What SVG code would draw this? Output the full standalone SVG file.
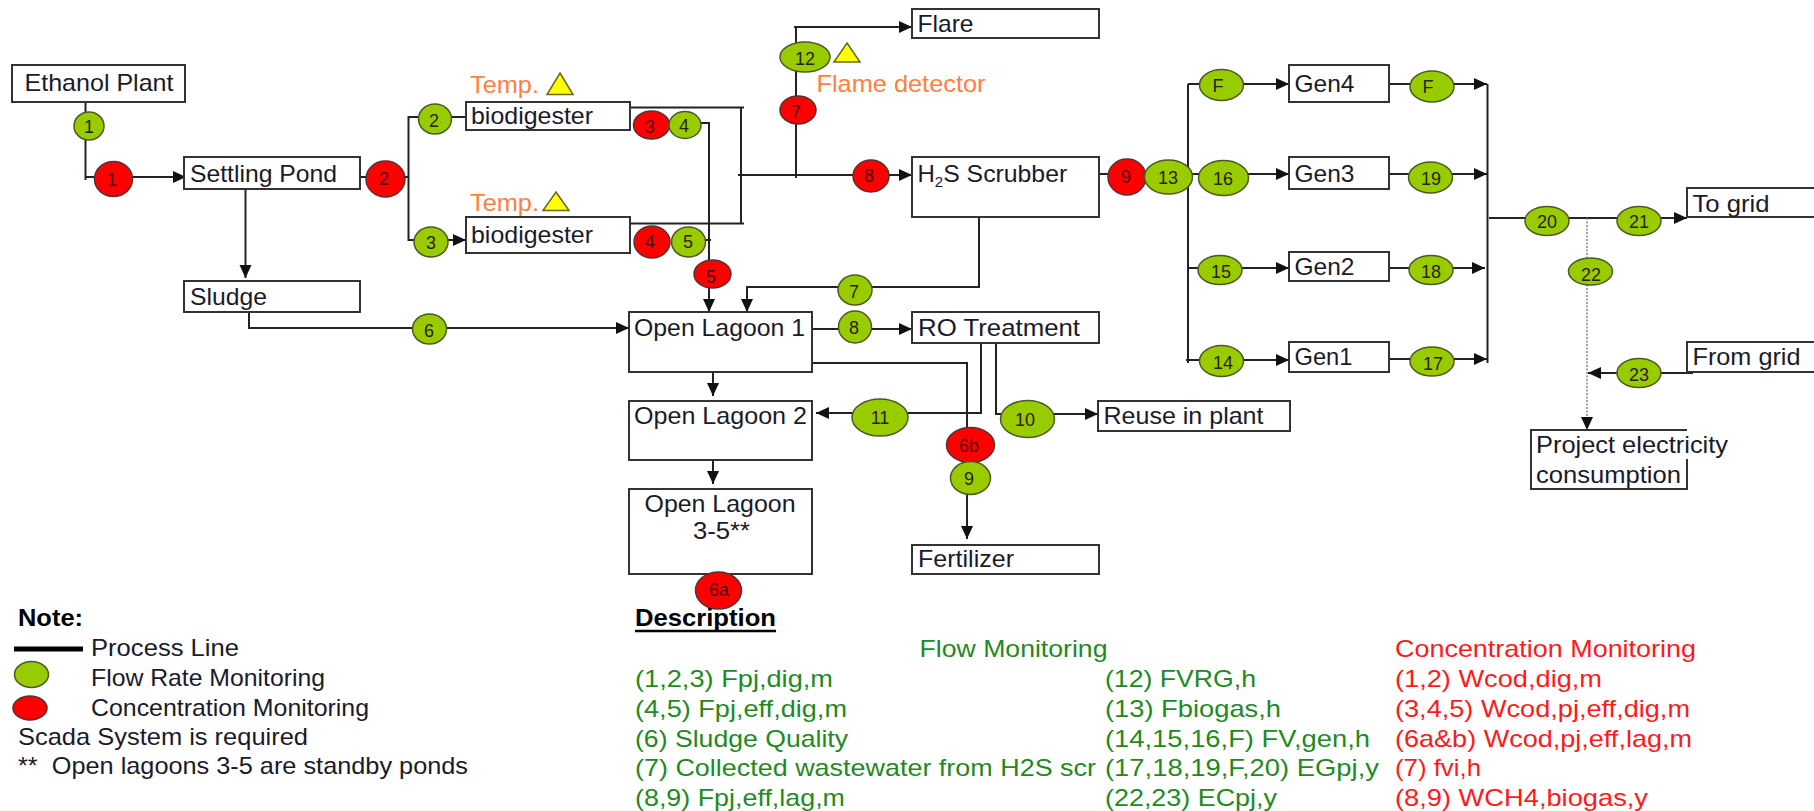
<svg xmlns="http://www.w3.org/2000/svg" width="1814" height="811" viewBox="0 0 1814 811">
<style>
text{font-family:"Liberation Sans",Arial,sans-serif;fill:#1a1a2a;font-size:24px}
.b{fill:#fff;stroke:#333;stroke-width:2}
.l{fill:none;stroke:#222;stroke-width:2}
.a{marker-end:url(#ah)}
.d{fill:none;stroke:#888;stroke-width:1.5;stroke-dasharray:2 1.5}
.f{fill:#99cc00;stroke:#4a5a20;stroke-width:1.5}
.r{fill:#ff0000;stroke:#5a3030;stroke-width:1.5}
.n{font-size:18px;text-anchor:middle;fill:#2a2200}
.nr{font-size:18px;text-anchor:middle;fill:#500000}
.o{fill:#ff7f40}
.t{fill:#ffff00;stroke:#666622;stroke-width:1.5}
.g{fill:#1f8a22}
.c{fill:#ff1a1a}
.k{fill:#000;font-weight:bold}
</style>
<defs>
<marker id="ah" markerUnits="userSpaceOnUse" markerWidth="14" markerHeight="14" refX="13" refY="6" orient="auto"><path d="M0 0L13 6L0 12Z" fill="#111"/></marker>
</defs>
<g id="connectors">
<path class="l" d="M85.500 102V180"/>
<path class="l a" d="M85.500 177H186"/>
<path class="l a" d="M245.500 189V278"/>
<path class="l a" d="M249 312V328H629"/>
<path class="l" d="M358 177H408.500"/>
<path class="l a" d="M466 117H408.500V240H466"/>
<path class="l" d="M630 107.500H744M741 107.500V223.500M630 223.500H744"/>
<path class="l a" d="M738 175H912"/>
<path class="l" d="M796 178V28"/>
<path class="l a" d="M794 27H912"/>
<path class="l a" d="M690 123H709V312"/>
<path class="l" d="M695 240H711"/>
<path class="l a" d="M979 217V287H747V312"/>
<path class="l a" d="M812 329H912"/>
<path class="l a" d="M812 363H967V539"/>
<path class="l a" d="M981 343V413H816"/>
<path class="l a" d="M996 343V414H1098"/>
<path class="l a" d="M713 372V396"/>
<path class="l a" d="M713 460V484"/>
<path class="l" d="M1098 174H1188M1188 84V363"/>
<path class="l a" d="M1188 84H1289"/>
<path class="l a" d="M1188 174H1289"/>
<path class="l a" d="M1188 268H1289"/>
<path class="l a" d="M1186 360H1289"/>
<path class="l a" d="M1389 84H1487"/>
<path class="l a" d="M1389 174H1487"/>
<path class="l a" d="M1389 268H1485"/>
<path class="l a" d="M1389 359H1487"/>
<path class="l" d="M1487.500 84V363"/>
<path class="l a" d="M1489 218H1687"/>
<path class="d" d="M1587 218V418"/>
<path class="d" d="M1587 418V430"/>
<path d="M1587 430L1581 417H1593Z" fill="#111"/>
<path class="l a" d="M1693 373H1588"/>
</g>
<g id="ethanol-plant"><rect class="b" x="12" y="65" width="173" height="37"/><text x="24.500" y="91" textLength="149" lengthAdjust="spacingAndGlyphs">Ethanol Plant</text></g>
<g id="settling-pond"><rect class="b" x="184" y="157" width="176" height="32"/><text x="190" y="182" textLength="147" lengthAdjust="spacingAndGlyphs">Settling Pond</text></g>
<g id="sludge"><rect class="b" x="184" y="281" width="176" height="31"/><text x="190" y="305" textLength="77" lengthAdjust="spacingAndGlyphs">Sludge</text></g>
<g id="biodigester-1"><rect class="b" x="466" y="102" width="164" height="28"/><text x="471" y="124" textLength="122" lengthAdjust="spacingAndGlyphs">biodigester</text></g>
<g id="biodigester-2"><rect class="b" x="466" y="217" width="164" height="36"/><text x="471" y="243" textLength="122" lengthAdjust="spacingAndGlyphs">biodigester</text></g>
<g id="flare"><rect class="b" x="912" y="9" width="187" height="29"/><text x="917.500" y="32" textLength="56" lengthAdjust="spacingAndGlyphs">Flare</text></g>
<g id="h2s-scrubber"><rect class="b" x="912" y="157" width="187" height="60"/><text x="917.500" y="182">H<tspan font-size="15" dy="5">2</tspan><tspan dy="-5" textLength="124" lengthAdjust="spacingAndGlyphs">S Scrubber</tspan></text></g>
<g id="open-lagoon-1"><rect class="b" x="629" y="312" width="183" height="60"/><text x="634" y="336" textLength="171" lengthAdjust="spacingAndGlyphs">Open Lagoon 1</text></g>
<g id="ro-treatment"><rect class="b" x="912" y="312" width="187" height="31"/><text x="918" y="336" textLength="162" lengthAdjust="spacingAndGlyphs">RO Treatment</text></g>
<g id="open-lagoon-2"><rect class="b" x="629" y="401" width="183" height="59"/><text x="634" y="424" textLength="173" lengthAdjust="spacingAndGlyphs">Open Lagoon 2</text></g>
<g id="open-lagoon-3-5"><rect class="b" x="629" y="489" width="183" height="85"/><text x="644.500" y="512" textLength="151" lengthAdjust="spacingAndGlyphs">Open Lagoon</text><text x="693" y="538.500" textLength="57" lengthAdjust="spacingAndGlyphs">3-5**</text></g>
<g id="fertilizer"><rect class="b" x="912" y="545" width="187" height="29"/><text x="918" y="567" textLength="96" lengthAdjust="spacingAndGlyphs">Fertilizer</text></g>
<g id="reuse-in-plant"><rect class="b" x="1098" y="401" width="192" height="30"/><text x="1103.500" y="424" textLength="160" lengthAdjust="spacingAndGlyphs">Reuse in plant</text></g>
<g id="gen4"><rect class="b" x="1289" y="65" width="100" height="37"/><text x="1294.500" y="92" textLength="60" lengthAdjust="spacingAndGlyphs">Gen4</text></g>
<g id="gen3"><rect class="b" x="1289" y="157" width="100" height="32"/><text x="1294.500" y="182" textLength="60" lengthAdjust="spacingAndGlyphs">Gen3</text></g>
<g id="gen2"><rect class="b" x="1289" y="252" width="100" height="29"/><text x="1294.500" y="275" textLength="60" lengthAdjust="spacingAndGlyphs">Gen2</text></g>
<g id="gen1"><rect class="b" x="1289" y="342" width="100" height="30"/><text x="1294.500" y="365" textLength="58" lengthAdjust="spacingAndGlyphs">Gen1</text></g>
<g id="to-grid"><path class="b" d="M1816 188H1687V217H1816"/><text x="1692.500" y="212" textLength="77" lengthAdjust="spacingAndGlyphs">To grid</text></g>
<g id="from-grid"><path class="b" d="M1816 342H1687V372H1816"/><text x="1692.500" y="365" textLength="108" lengthAdjust="spacingAndGlyphs">From grid</text></g>
<g id="project-electricity"><path class="b" style="fill:none" d="M1687 430H1531V489H1687V459"/><text x="1536" y="453" textLength="192" lengthAdjust="spacingAndGlyphs">Project electricity</text><text x="1536" y="483" textLength="145" lengthAdjust="spacingAndGlyphs">consumption</text></g>
<g id="sensor-temp-1"><text class="o" x="470" y="93" textLength="69" lengthAdjust="spacingAndGlyphs">Temp.</text><path class="t" d="M560 73L573 94.500H547Z"/></g>
<g id="sensor-temp-2"><text class="o" x="470" y="211" textLength="69" lengthAdjust="spacingAndGlyphs">Temp.</text><path class="t" d="M556 192L569 210.500H543Z"/></g>
<g id="sensor-flame"><path class="t" d="M847 43L860 62H834Z"/><text class="o" x="816.500" y="92" textLength="169" lengthAdjust="spacingAndGlyphs">Flame detector</text></g>
<g id="flow-1"><ellipse class="f" cx="89" cy="126" rx="15" ry="14"/><text class="n" x="89" y="133">1</text></g>
<g id="conc-1"><ellipse class="r" cx="113.500" cy="179" rx="19" ry="17.500"/><text class="nr" x="112" y="186">1</text></g>
<g id="conc-2"><ellipse class="r" cx="385.500" cy="179" rx="19.500" ry="18"/><text class="nr" x="384" y="185">2</text></g>
<g id="flow-2"><ellipse class="f" cx="435" cy="119" rx="16.500" ry="15"/><text class="n" x="434" y="127">2</text></g>
<g id="flow-3"><ellipse class="f" cx="431" cy="242" rx="17" ry="15"/><text class="n" x="431" y="249">3</text></g>
<g id="flow-6"><ellipse class="f" cx="429.500" cy="329" rx="17" ry="15"/><text class="n" x="429" y="337">6</text></g>
<g id="conc-3"><ellipse class="r" cx="651.500" cy="125" rx="18" ry="14"/><text class="nr" x="650" y="133">3</text></g>
<g id="flow-4"><ellipse class="f" cx="685" cy="125" rx="16" ry="13.500"/><text class="n" x="684" y="132">4</text></g>
<g id="conc-4"><ellipse class="r" cx="652" cy="242" rx="18" ry="16"/><text class="nr" x="650" y="248">4</text></g>
<g id="flow-5"><ellipse class="f" cx="688.500" cy="242" rx="17" ry="15"/><text class="n" x="688" y="248">5</text></g>
<g id="conc-5"><ellipse class="r" cx="712.500" cy="274" rx="18.500" ry="14"/><text class="nr" x="711" y="283">5</text></g>
<g id="flow-7"><ellipse class="f" cx="855" cy="290" rx="17" ry="15"/><text class="n" x="854" y="298">7</text></g>
<g id="flow-8"><ellipse class="f" cx="855" cy="327" rx="16.500" ry="16"/><text class="n" x="854" y="334">8</text></g>
<g id="conc-7"><ellipse class="r" cx="798" cy="110" rx="18" ry="14"/><text class="nr" x="796" y="118">7</text></g>
<g id="flow-12"><ellipse class="f" cx="805" cy="57" rx="25" ry="15"/><text class="n" x="805" y="65">12</text></g>
<g id="conc-8"><ellipse class="r" cx="871" cy="176" rx="18" ry="16"/><text class="nr" x="869" y="182">8</text></g>
<g id="conc-9"><ellipse class="r" cx="1127" cy="177" rx="19" ry="18"/><text class="nr" x="1126" y="183">9</text></g>
<g id="flow-13"><ellipse class="f" cx="1168.500" cy="177" rx="24" ry="17"/><text class="n" x="1168" y="184">13</text></g>
<g id="flow-F-in"><ellipse class="f" cx="1221.500" cy="85" rx="22" ry="15.500"/><text class="n" x="1218" y="92">F</text></g>
<g id="flow-F-out"><ellipse class="f" cx="1432" cy="86.500" rx="22" ry="15.500"/><text class="n" x="1428" y="93">F</text></g>
<g id="flow-16"><ellipse class="f" cx="1223.500" cy="178" rx="25" ry="17.500"/><text class="n" x="1223" y="185">16</text></g>
<g id="flow-19"><ellipse class="f" cx="1430.500" cy="177.500" rx="22" ry="15.500"/><text class="n" x="1431" y="185">19</text></g>
<g id="flow-15"><ellipse class="f" cx="1220" cy="270" rx="22" ry="14.500"/><text class="n" x="1221" y="278">15</text></g>
<g id="flow-18"><ellipse class="f" cx="1431" cy="270" rx="22" ry="14.500"/><text class="n" x="1431" y="278">18</text></g>
<g id="flow-14"><ellipse class="f" cx="1221.500" cy="361" rx="22" ry="15.500"/><text class="n" x="1223" y="369">14</text></g>
<g id="flow-17"><ellipse class="f" cx="1432" cy="361.500" rx="22" ry="14.500"/><text class="n" x="1433" y="370">17</text></g>
<g id="flow-20"><ellipse class="f" cx="1547" cy="221" rx="22" ry="14.500"/><text class="n" x="1547" y="228">20</text></g>
<g id="flow-21"><ellipse class="f" cx="1639" cy="221" rx="22" ry="14.500"/><text class="n" x="1639" y="228">21</text></g>
<g id="flow-22"><ellipse class="f" cx="1590.500" cy="271.500" rx="22" ry="13.500"/><text class="n" x="1591" y="281">22</text></g>
<g id="flow-23"><ellipse class="f" cx="1639" cy="373" rx="22" ry="14.500"/><text class="n" x="1639" y="381">23</text></g>
<g id="flow-11"><ellipse class="f" cx="880" cy="417.500" rx="28" ry="18.500"/><text class="n" x="880" y="424">11</text></g>
<g id="flow-10"><ellipse class="f" cx="1027.500" cy="419" rx="27" ry="18.500"/><text class="n" x="1025" y="426">10</text></g>
<g id="conc-6b"><ellipse class="r" cx="970.500" cy="445" rx="24" ry="17.500"/><text class="nr" x="969" y="452">6b</text></g>
<g id="flow-9"><ellipse class="f" cx="970.500" cy="478" rx="20" ry="16.500"/><text class="n" x="969" y="485">9</text></g>
<g id="conc-6a"><ellipse class="r" cx="718.500" cy="590.500" rx="23" ry="18.500"/><text class="nr" x="719" y="596">6a</text></g>
<g id="legend">
<text class="k" x="18" y="626" textLength="65" lengthAdjust="spacingAndGlyphs">Note:</text>
<path d="M14 649H83" stroke="#000" stroke-width="5" fill="none"/>
<text x="91" y="656" textLength="148" lengthAdjust="spacingAndGlyphs">Process Line</text>
<ellipse class="f" cx="31.500" cy="674.500" rx="17" ry="13"/>
<text x="91" y="686" textLength="234" lengthAdjust="spacingAndGlyphs">Flow Rate Monitoring</text>
<ellipse class="r" cx="30" cy="708" rx="17" ry="12"/>
<text x="91" y="716" textLength="278" lengthAdjust="spacingAndGlyphs">Concentration Monitoring</text>
<text x="18" y="745" textLength="290" lengthAdjust="spacingAndGlyphs">Scada System is required</text>
<text x="18" y="774" textLength="450" lengthAdjust="spacingAndGlyphs" xml:space="preserve">**  Open lagoons 3-5 are standby ponds</text>
</g>
<g id="description">
<text class="k" x="635" y="626" textLength="141" lengthAdjust="spacingAndGlyphs">Description</text>
<path d="M635 631H776" stroke="#000" stroke-width="2.500" fill="none"/>
<text class="g" x="919.500" y="657" textLength="188" lengthAdjust="spacingAndGlyphs">Flow Monitoring</text>
<text class="c" x="1395" y="657" textLength="301" lengthAdjust="spacingAndGlyphs">Concentration Monitoring</text>
<text class="g" x="635" y="687" textLength="198" lengthAdjust="spacingAndGlyphs">(1,2,3) Fpj,dig,m</text>
<text class="g" x="635" y="717" textLength="212" lengthAdjust="spacingAndGlyphs">(4,5) Fpj,eff,dig,m</text>
<text class="g" x="635" y="747" textLength="213" lengthAdjust="spacingAndGlyphs">(6) Sludge Quality</text>
<text class="g" x="635" y="776" textLength="461" lengthAdjust="spacingAndGlyphs">(7) Collected wastewater from H2S scr</text>
<text class="g" x="635" y="806" textLength="210" lengthAdjust="spacingAndGlyphs">(8,9) Fpj,eff,lag,m</text>
<text class="g" x="1105" y="687" textLength="151" lengthAdjust="spacingAndGlyphs">(12) FVRG,h</text>
<text class="g" x="1105" y="717" textLength="176" lengthAdjust="spacingAndGlyphs">(13) Fbiogas,h</text>
<text class="g" x="1105" y="747" textLength="265" lengthAdjust="spacingAndGlyphs">(14,15,16,F) FV,gen,h</text>
<text class="g" x="1105" y="776" textLength="274" lengthAdjust="spacingAndGlyphs">(17,18,19,F,20) EGpj,y</text>
<text class="g" x="1105" y="806" textLength="172" lengthAdjust="spacingAndGlyphs">(22,23) ECpj,y</text>
<text class="c" x="1395" y="687" textLength="207" lengthAdjust="spacingAndGlyphs">(1,2) Wcod,dig,m</text>
<text class="c" x="1395" y="717" textLength="295" lengthAdjust="spacingAndGlyphs">(3,4,5) Wcod,pj,eff,dig,m</text>
<text class="c" x="1395" y="747" textLength="297" lengthAdjust="spacingAndGlyphs">(6a&amp;b) Wcod,pj,eff,lag,m</text>
<text class="c" x="1395" y="776" textLength="86" lengthAdjust="spacingAndGlyphs">(7) fvi,h</text>
<text class="c" x="1395" y="806" textLength="253" lengthAdjust="spacingAndGlyphs">(8,9) WCH4,biogas,y</text>
</g>
</svg>
